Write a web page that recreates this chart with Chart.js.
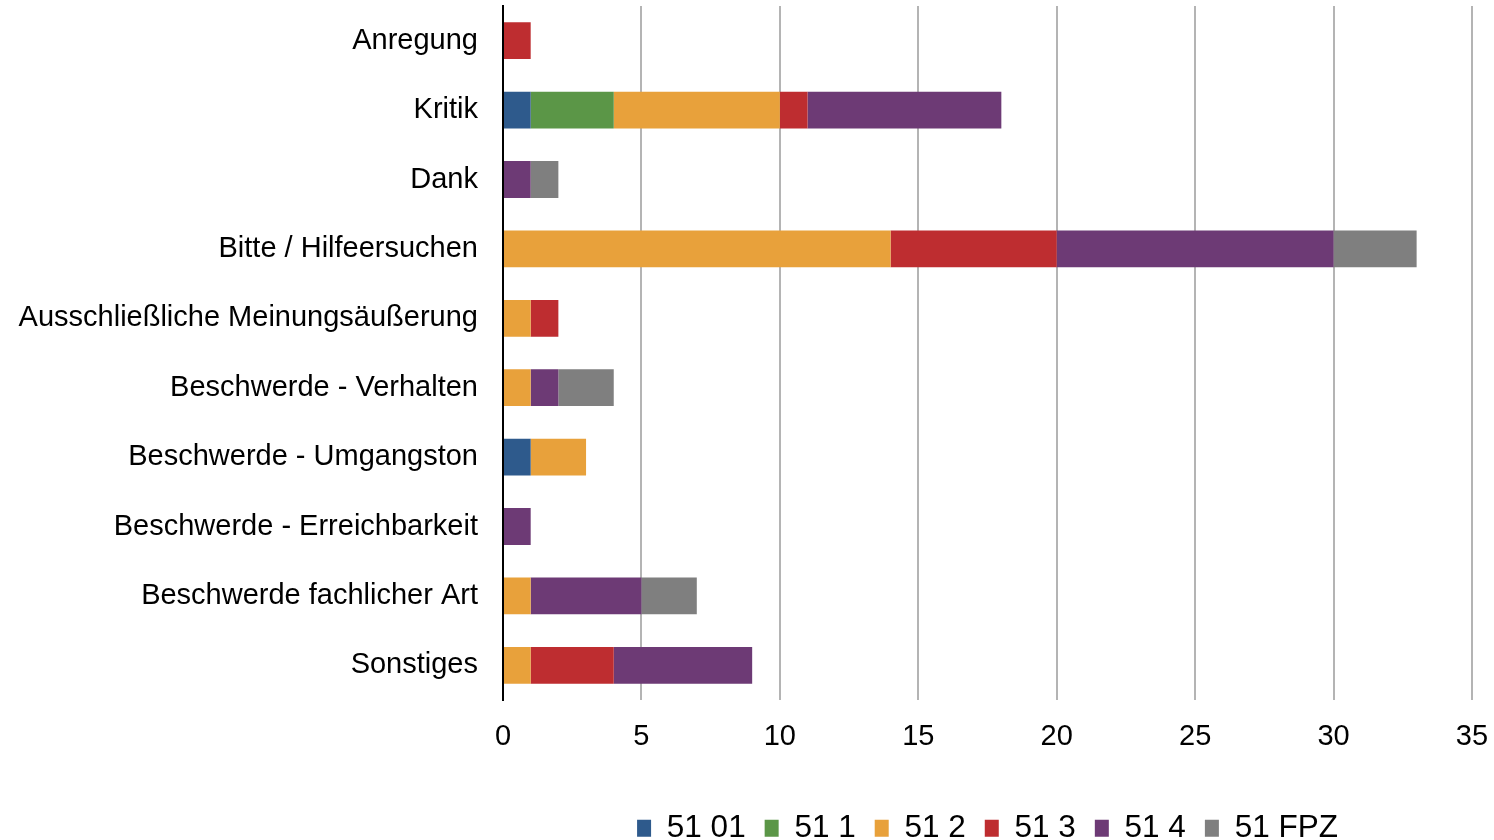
<!DOCTYPE html>
<html>
<head>
<meta charset="utf-8">
<script src="https://cdn.jsdelivr.net/npm/chart.js@4/dist/chart.umd.min.js"></script>
<style>
  html, body { margin: 0; padding: 0; background: #fff; }
  #wrap { width: 1494px; height: 840px; }
</style>
</head>
<body>
<div id="wrap"><canvas id="chart"></canvas></div>
<script>
const categories = [
  'Anregung',
  'Kritik',
  'Dank',
  'Bitte / Hilfeersuchen',
  'Ausschließliche Meinungsäußerung',
  'Beschwerde - Verhalten',
  'Beschwerde - Umgangston',
  'Beschwerde - Erreichbarkeit',
  'Beschwerde fachlicher Art',
  'Sonstiges',
];
const seriesNames = ['51 01', '51 1', '51 2', '51 3', '51 4', '51 FPZ'];
const s5101 = [0, 1, 0, 0, 0, 0, 1, 0, 0, 0];
const s511 = [0, 3, 0, 0, 0, 0, 0, 0, 0, 0];
const s512 = [0, 6, 0, 14, 1, 1, 2, 0, 1, 1];
const s513 = [1, 1, 0, 6, 1, 0, 0, 0, 0, 3];
const s514 = [0, 7, 1, 10, 0, 1, 0, 1, 4, 5];
const s51fpz = [0, 0, 1, 3, 0, 2, 0, 0, 2, 0];
const xTicks = [0, 5, 10, 15, 20, 25, 30, 35];

const colors = ['#2e5a8c', '#5b9647', '#e8a13b', '#be2d30', '#6d3a75', '#7f7f7f'];
const values = [s5101, s511, s512, s513, s514, s51fpz];

Chart.defaults.font.family = '"Liberation Sans", Arial, sans-serif';
Chart.defaults.color = '#000';

// center the legend under the plot area instead of the whole canvas
const legendUnderArea = {
  id: 'legendUnderArea',
  afterLayout(chart) {
    const l = chart.legend;
    if (!l) return;
    l.left = chart.chartArea.left;
    l.right = chart.chartArea.right;
  },
};

const data = {
  labels: categories,
  datasets: seriesNames.map((name, i) => ({
    label: name,
    data: values[i],
    backgroundColor: colors[i],
    borderWidth: 0,
    barPercentage: 0.53,
    categoryPercentage: 1,
  })),
};

const config = {
  type: 'bar',
  data: data,
  plugins: [legendUnderArea],
  options: {
    indexAxis: 'y',
    responsive: false,
    animation: false,
    layout: { padding: { top: 6, right: 22, left: 0, bottom: -14 } },
    plugins: {
      legend: {
        position: 'bottom',
        labels: {
          font: { size: 31.5 },
          boxWidth: 14,
          boxHeight: 17,
          padding: 19,
        },
      },
      tooltip: { enabled: false },
    },
    scales: {
      x: {
        stacked: true,
        min: 0,
        max: 35,
        afterBuildTicks(scale) {
          scale.ticks = xTicks.map((v) => ({ value: v }));
        },
        afterFit(scale) {
          scale.height = 93.5;
          scale.paddingLeft = 0;
          scale.paddingRight = 0;
        },
        grid: { color: '#b4b4b4', lineWidth: 2, drawTicks: false },
        border: { display: false },
        ticks: { font: { size: 29 }, padding: 20 },
      },
      y: {
        stacked: true,
        afterFit(scale) {
          scale.width = 503;
          scale.paddingTop = 0;
          scale.paddingBottom = 0;
        },
        grid: { display: false, drawTicks: false },
        border: { display: true, color: '#000', width: 2 },
        ticks: { font: { size: 29 }, padding: 25 },
      },
    },
  },
};

const canvas = document.getElementById('chart');
canvas.width = 1494;
canvas.height = 840;
new Chart(canvas, config);
</script>
</body>
</html>
